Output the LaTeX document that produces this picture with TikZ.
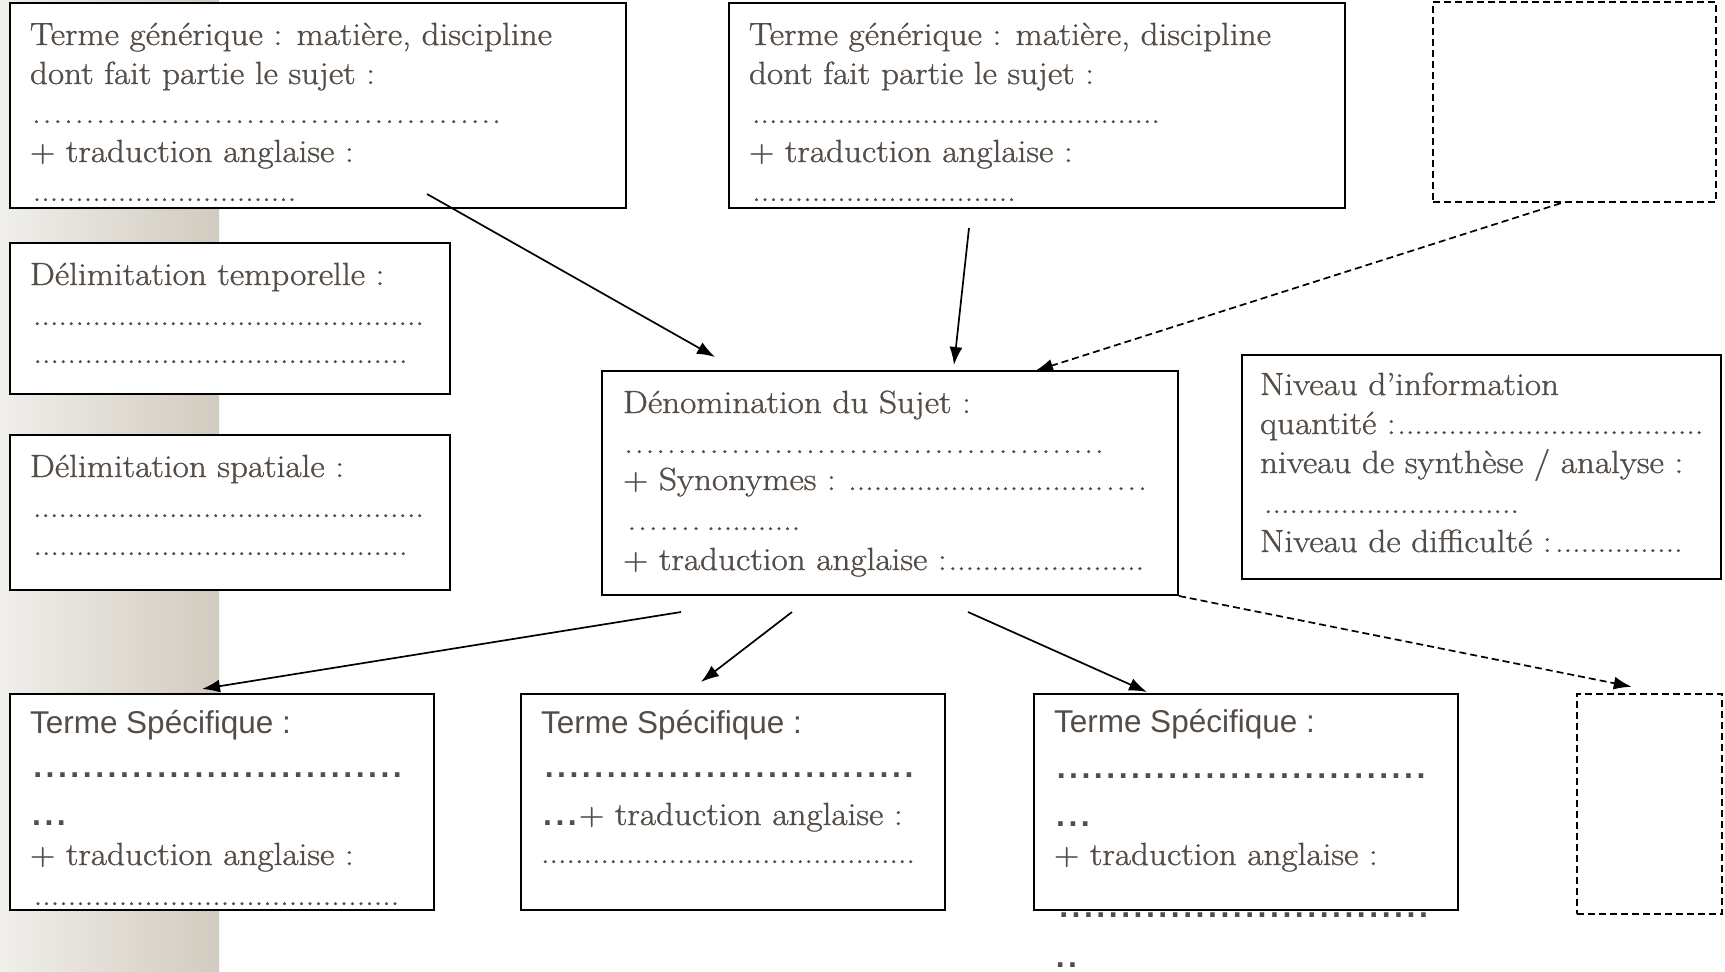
\documentclass[tikz,border=0pt]{standalone}
\usepackage{fontspec}
\setmainfont{Latin Modern Roman}[FakeStretch=1.1, FakeBold=1.0]
\newfontfamily\sansf{Liberation Sans}
\usetikzlibrary{arrows.meta,calc}
\definecolor{txtc}{RGB}{84,76,70}
\definecolor{bandl}{RGB}{240,239,235}
\definecolor{bandr}{RGB}{210,203,191}
\newcommand\fdots[1]{\hbox to #1{\cleaders\hbox to 8.5pt{\hss.\hss}\hfill}}
\newcommand\sdots[1]{\hbox to #1{\cleaders\hbox to 10.7pt{\hss.\hss}\hfill}}
\newcommand\bdots[1]{\hbox to #1{\sansf\bfseries\cleaders\hbox to 12.4pt{\hss.\hss}\hfill}}
\newcommand\trow[2]{\hbox to #1{#2\cleaders\hbox to 8.5pt{\hss.\hss}\hfill}}
\tikzset{
  box/.style={draw=black, line width=2pt, fill=white, inner sep=0pt, rectangle},
  dbox/.style={draw=black, line width=2.5pt, fill=white, inner sep=0pt, rectangle, dash pattern=on 7pt off 4pt},
  txt/.style={anchor=base west, inner sep=0pt, outer sep=0pt, text=txtc, font=\fontsize{32}{39}\selectfont},
  tsans/.style={txt, font=\sansf\fontsize{31.5}{39}\selectfont},
  arr/.style={line width=1.7pt, -{Latex[length=18pt,width=13pt]}},
  darr/.style={arr, dash pattern=on 7pt off 4pt},
}
\begin{document}
\begin{tikzpicture}[x=1pt,y=-1pt]
\useasboundingbox (0,0) rectangle (1725,972);
\shade[left color=bandl, right color=bandr] (0,0) rectangle (219,972);

% boxes
\node[box, minimum width=616, minimum height=205] (g1) at (318,105.5) {};
\node[box, minimum width=616, minimum height=205] (g2) at (1037,105.5) {};
\node[dbox, minimum width=283, minimum height=200] (tr) at (1574.5,102) {};
\node[box, minimum width=440, minimum height=151] (dt) at (230,318.5) {};
\node[box, minimum width=440, minimum height=155] (ds) at (230,512.5) {};
\node[box, minimum width=576, minimum height=224] (cen) at (890,483) {};
\node[box, minimum width=479, minimum height=224] (niv) at (1481.5,467) {};
\node[box, minimum width=424, minimum height=216] (ts1) at (222,802) {};
\node[box, minimum width=424, minimum height=216] (ts2) at (733,802) {};
\node[box, minimum width=424, minimum height=216] (ts3) at (1246,802) {};
\node[dbox, minimum width=145, minimum height=220] (br) at (1649.5,804) {};

% G1 text
\node[txt] (g1a) at (30,45) {Terme générique : matière, discipline};
\node[txt] (g1b) at (30,84) {dont fait partie le sujet :};
\node[txt] (g1c) at (30,123) {\sdots{473pt}};
\node[txt] (g1d) at (30,162) {+ traduction anglaise :};
\node[txt] (g1e) at (30,201) {\fdots{269pt}};
% G2 text
\node[txt] (g2a) at (749,45) {Terme générique : matière, discipline};
\node[txt] (g2b) at (749,84) {dont fait partie le sujet :};
\node[txt] (g2c) at (749,123) {\fdots{414pt}};
\node[txt] (g2d) at (749,162) {+ traduction anglaise :};
\node[txt] (g2e) at (749,201) {\fdots{270pt}};
% Delimitation temporelle
\node[txt] (dta) at (30,285) {Délimitation temporelle :};
\node[txt] (dtb) at (30,325) {\fdots{397pt}};
\node[txt] (dtc) at (30,363) {\fdots{381pt}};
% Delimitation spatiale
\node[txt] (dsa) at (30,477) {Délimitation spatiale :};
\node[txt] (dsb) at (30,517) {\fdots{397pt}};
\node[txt] (dsc) at (30,555) {\fdots{381pt}};
% central
\node[txt] (cea) at (623,413) {Dénomination du Sujet :};
\node[txt] (ceb) at (623,453) {\sdots{482pt}};
\node[txt] (cec) at (623,490) {\hbox to 525pt{+ Synonymes :\ \cleaders\hbox to 8.5pt{\hss.\hss}\hfill\sdots{43pt}}};
\node[txt] (ced) at (623,530) {\hbox to 179pt{\sdots{82pt}\cleaders\hbox to 8.5pt{\hss.\hss}\hfill}};
\node[txt] (cee) at (623,570) {\trow{523pt}{+ traduction anglaise :}};
% niveau
\node[txt] (nia) at (1260,395) {Niveau d’information};
\node[txt] (nib) at (1260,434) {\trow{445pt}{quantité :}};
\node[txt] (nic) at (1260,473) {niveau de synthèse / analyse :};
\node[txt] (nid) at (1260,513) {\fdots{263pt}};
\node[txt] (nie) at (1260,552) {\trow{426pt}{Niveau de difficulté :}};
% TS1
\node[tsans] (t1a) at (30,733) {Terme Spécifique :};
\node[txt] (t1b) at (30,777) {\bdots{375pt}};
\node[txt] (t1c) at (30,825) {\bdots{38pt}};
\node[txt] (t1d) at (30,865) {+ traduction anglaise :};
\node[txt] (t1e) at (30,905) {\fdots{373pt}};
% TS2
\node[tsans] (t2a) at (541,733) {Terme Spécifique :};
\node[txt] (t2b) at (541,777) {\bdots{376pt}};
\node[txt] (t2c) at (541,825) {\bdots{38pt}+ traduction anglaise :};
\node[txt] (t2d) at (541,863) {\fdots{374pt}};
% TS3
\node[tsans] (t3a) at (1054,732) {Terme Spécifique :};
\node[txt] (t3b) at (1054,778) {\bdots{374pt}};
\node[txt] (t3c) at (1054,826) {\bdots{38pt}};
\node[txt] (t3d) at (1054,865) {+ traduction anglaise :};
\node[txt] (t3e) at (1054,917) {\bdots{379pt}};
\node[txt] (t3f) at (1054,967) {\bdots{25pt}};

% connectors
\draw[arr] ([shift={(418,-15)}]g1.south west) -- ([shift={(114,-13)}]cen.north west);
\draw[arr] ([shift={(241,19)}]g2.south west) -- ([shift={(353,-5)}]cen.north west);
\draw[darr] ([shift={(129,0)}]tr.south west) -- ([shift={(434,1)}]cen.north west);
\draw[arr] ([shift={(80,16)}]cen.south west) -- ([shift={(193,-4)}]ts1.north west);
\draw[arr] ([shift={(191,16)}]cen.south west) -- ([shift={(181,-11)}]ts2.north west);
\draw[arr] ([shift={(367,16)}]cen.south west) -- ([shift={(114,-1)}]ts3.north west);
\draw[darr] (cen.south east) -- ([shift={(56,-6)}]br.north west);
\end{tikzpicture}
\end{document}
